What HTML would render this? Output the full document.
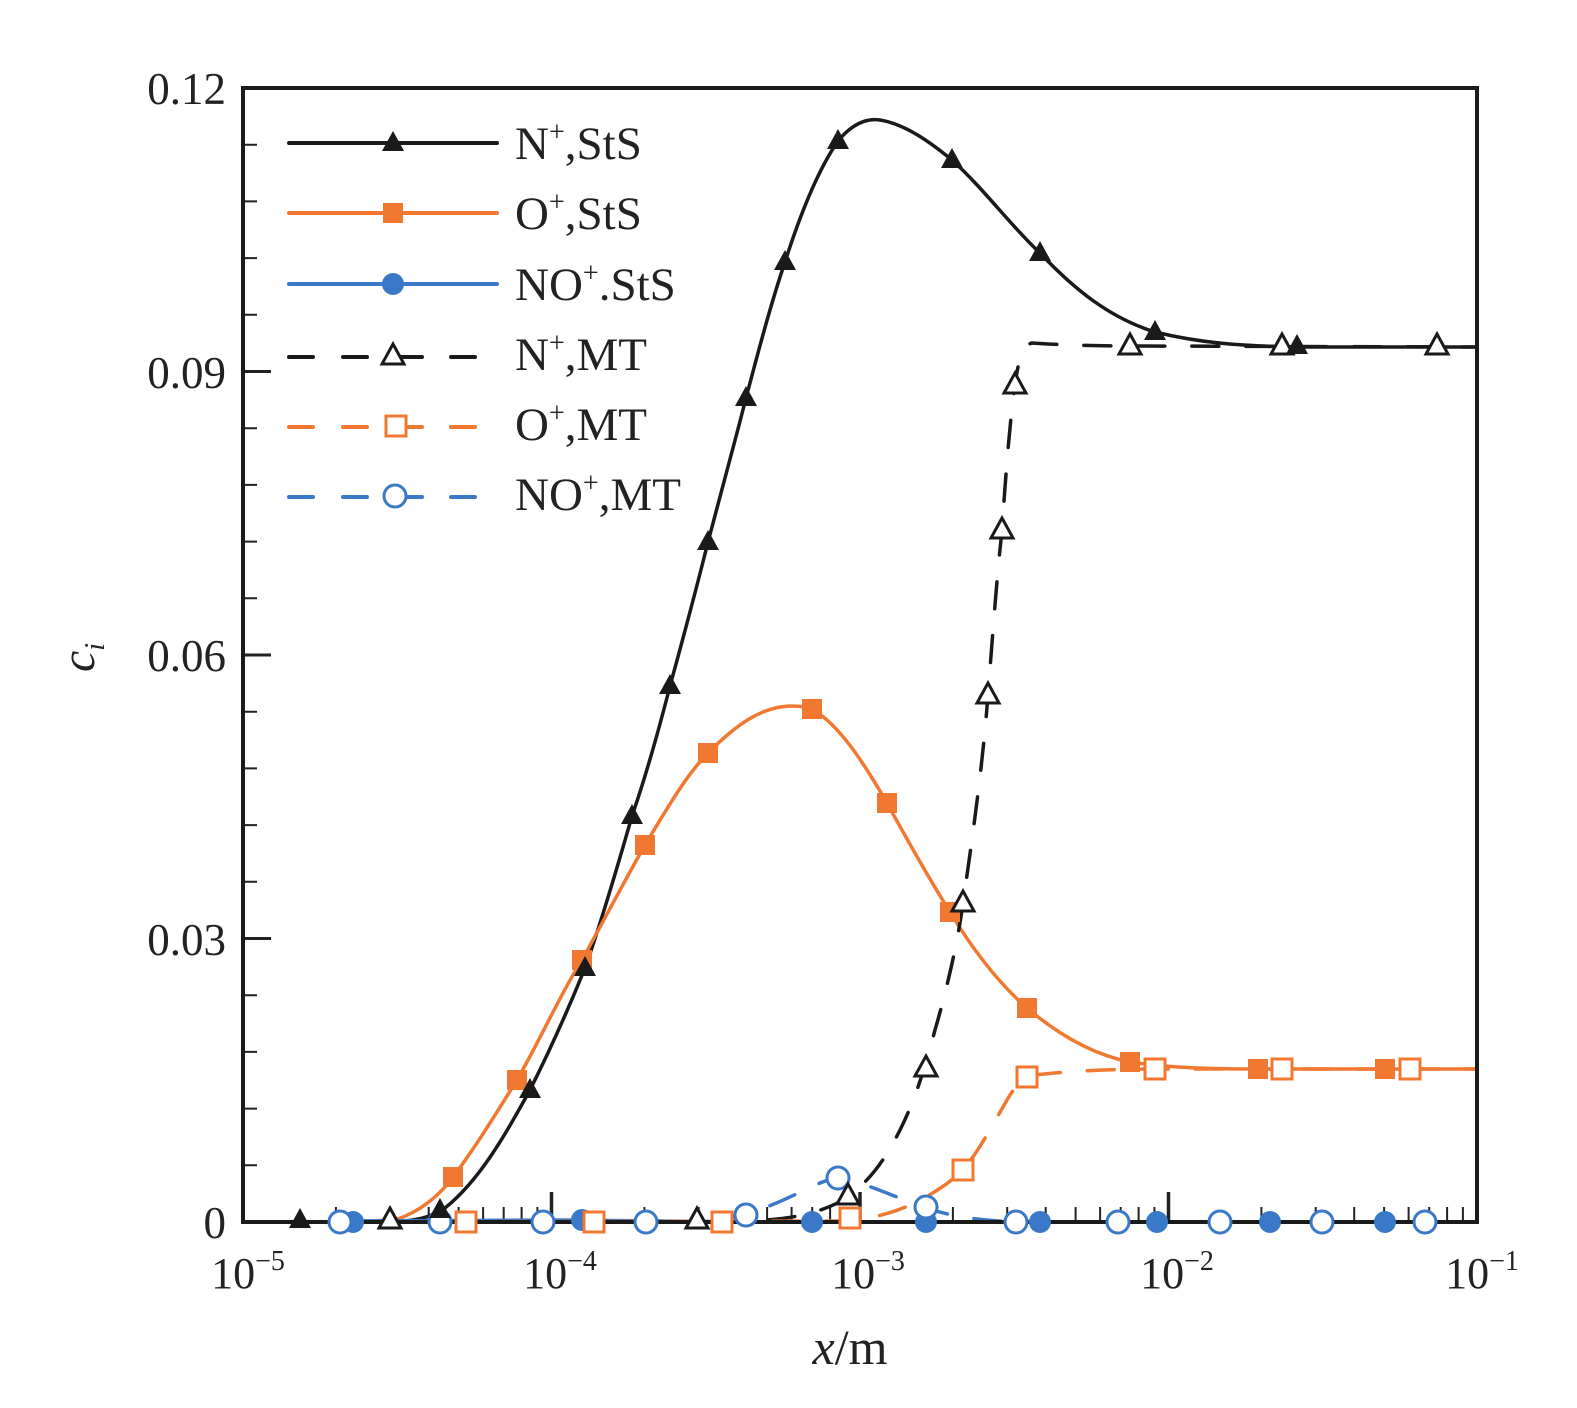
<!DOCTYPE html>
<html><head><meta charset="utf-8"><style>
html,body{margin:0;padding:0;background:#fff;}
svg{display:block;}
text{font-family:"Liberation Serif",serif;fill:#222;}
</style></head><body>
<svg width="1577" height="1408" viewBox="0 0 1577 1408" xmlns="http://www.w3.org/2000/svg">
<defs>
<symbol id="tf" overflow="visible"><polygon points="0,-12 11,8 -11,8" fill="#1a1a1a"/></symbol>
<symbol id="to" overflow="visible"><polygon points="0,-12 11,8 -11,8" fill="#fff" stroke="#1a1a1a" stroke-width="3"/></symbol>
<symbol id="sf" overflow="visible"><rect x="-10" y="-10" width="20" height="20" fill="#f07830"/></symbol>
<symbol id="so" overflow="visible"><rect x="-10" y="-10" width="20" height="20" fill="#fff" stroke="#f07830" stroke-width="3"/></symbol>
<symbol id="cf" overflow="visible"><circle r="11" fill="#3a78c8"/></symbol>
<symbol id="co" overflow="visible"><circle r="11" fill="#fff" stroke="#3a78c8" stroke-width="3"/></symbol>
</defs>

<g stroke="#222" stroke-width="2" fill="none">
<path d="M243,1165.3h14M243,1108.6h14M243,1051.9h14M243,995.2h14M243,881.8h14M243,825.1h14M243,768.4h14M243,711.7h14M243,598.3h14M243,541.6h14M243,484.9h14M243,428.2h14M243,314.8h14M243,258.1h14M243,201.4h14M243,144.7h14"/>
<path d="M243,938.5h28M243,655h28M243,371.5h28" stroke-width="3"/>
<path d="M335.9,1222v-15M390.2,1222v-15M428.7,1222v-15M458.6,1222v-15M483.1,1222v-15M503.7,1222v-15M521.6,1222v-15M537.4,1222v-15M644.4,1222v-15M698.7,1222v-15M737.2,1222v-15M767.1,1222v-15M791.6,1222v-15M812.2,1222v-15M830.1,1222v-15M845.9,1222v-15M952.9,1222v-15M1007.2,1222v-15M1045.7,1222v-15M1075.6,1222v-15M1100.1,1222v-15M1120.7,1222v-15M1138.6,1222v-15M1154.4,1222v-15M1261.4,1222v-15M1315.7,1222v-15M1354.2,1222v-15M1384.1,1222v-15M1408.6,1222v-15M1429.2,1222v-15M1447.1,1222v-15M1462.9,1222v-15"/>
<path d="M551.5,1222v-30M860,1222v-30M1168.5,1222v-30" stroke-width="3.5"/>
</g>

<g fill="none" stroke-width="3.5" stroke-linejoin="round" stroke-linecap="round">
<path stroke="#1a1a1a" d="M300,1222 L390,1222 C415,1221 430,1218 445,1208 C480,1180 505,1135 530,1090 C550,1050 568,1010 585,968 C602,920 618,865 632,816 C648,770 660,725 670,686 C684,635 696,590 708,542 C722,490 734,445 746,398 C760,345 772,300 785,262 C800,215 818,170 838,141 C852,124 866,118 880,120 C905,124 930,142 952,160 C985,190 1010,225 1040,253 C1075,290 1110,318 1155,332 C1200,343 1240,346 1297,347 L1477,347"/>
<path stroke="#f07830" d="M340,1222 L395,1220 C420,1212 440,1195 453,1177 C475,1148 497,1112 517,1080 C540,1040 560,995 582,960 C603,922 625,880 645,845 C665,812 686,775 708,753 C735,726 760,707 790,706 C800,706 808,707 812,709 C840,725 865,765 887,803 C910,845 930,880 950,912 C970,945 995,980 1027,1008 C1060,1036 1095,1055 1130,1062 C1170,1068 1210,1069 1260,1069 L1477,1069"/>
<path stroke="#3a78c8" d="M340,1221 L560,1220 C640,1221 700,1222 760,1222 L1477,1222"/>
<path stroke="#1a1a1a" stroke-dasharray="27,27" d="M390,1222 L700,1222 C760,1222 790,1219 815,1212 C835,1205 845,1200 850,1195 C870,1180 885,1160 900,1130 C915,1100 925,1068 935,1030 C948,985 958,940 963,903 C975,820 983,760 988,695 C993,630 997,575 1002,530 C1006,470 1010,420 1015,385 C1019,355 1024,345 1032,343 C1060,345 1100,346 1130,346 L1477,347"/>
<path stroke="#f07830" stroke-dasharray="27,27" d="M340,1222 L840,1221 C870,1219 890,1214 910,1205 C930,1196 950,1183 963,1170 C980,1150 995,1120 1010,1095 C1018,1083 1024,1078 1035,1075 C1070,1071 1110,1069 1155,1069 L1477,1069"/>
<path stroke="#3a78c8" stroke-dasharray="27,27" d="M340,1222 L690,1222 C715,1221 735,1218 750,1213 C775,1205 800,1192 820,1183 C830,1179 836,1178 845,1179 C870,1185 895,1197 926,1208 C950,1216 975,1220 1016,1222 L1477,1222"/>
</g>

<rect x="243" y="88" width="1234" height="1134" fill="none" stroke="#1a1a1a" stroke-width="4"/>

<g>
<use href="#cf" x="353" y="1222"/><use href="#cf" x="582" y="1220"/><use href="#cf" x="812" y="1222"/><use href="#cf" x="926" y="1222"/><use href="#cf" x="1040" y="1222"/><use href="#cf" x="1157" y="1222"/><use href="#cf" x="1270" y="1222"/><use href="#cf" x="1385" y="1222"/>
<use href="#co" x="340" y="1222"/><use href="#co" x="440" y="1222"/><use href="#co" x="543" y="1222"/><use href="#co" x="646" y="1222"/><use href="#co" x="746" y="1215"/><use href="#co" x="838" y="1178"/><use href="#co" x="926" y="1207"/><use href="#co" x="1016" y="1222"/><use href="#co" x="1118" y="1222"/><use href="#co" x="1220" y="1222"/><use href="#co" x="1322" y="1222"/><use href="#co" x="1425" y="1222"/>
<use href="#so" x="466" y="1222"/><use href="#so" x="594" y="1222"/><use href="#so" x="722" y="1222"/><use href="#so" x="850" y="1218"/><use href="#so" x="963" y="1170"/><use href="#so" x="1027" y="1077"/><use href="#so" x="1155" y="1069"/><use href="#so" x="1282" y="1069"/><use href="#so" x="1410" y="1069"/>
<use href="#sf" x="453" y="1177"/><use href="#sf" x="517" y="1080"/><use href="#sf" x="582" y="960"/><use href="#sf" x="645" y="845"/><use href="#sf" x="708" y="753"/><use href="#sf" x="812" y="709"/><use href="#sf" x="887" y="803"/><use href="#sf" x="950" y="912"/><use href="#sf" x="1027" y="1008"/><use href="#sf" x="1130" y="1062"/><use href="#sf" x="1258" y="1069"/><use href="#sf" x="1385" y="1069"/>
<use href="#to" x="390" y="1220"/><use href="#to" x="697" y="1220"/><use href="#to" x="848" y="1196"/><use href="#to" x="926" y="1068"/><use href="#to" x="963" y="903"/><use href="#to" x="988" y="695"/><use href="#to" x="1002" y="530"/><use href="#to" x="1015" y="385"/><use href="#to" x="1130" y="346"/><use href="#to" x="1282" y="346"/><use href="#to" x="1437" y="346"/>
<use href="#tf" x="300" y="1220"/><use href="#tf" x="440" y="1210"/><use href="#tf" x="530" y="1090"/><use href="#tf" x="585" y="968"/><use href="#tf" x="632" y="816"/><use href="#tf" x="670" y="686"/><use href="#tf" x="708" y="542"/><use href="#tf" x="746" y="398"/><use href="#tf" x="785" y="262"/><use href="#tf" x="838" y="141"/><use href="#tf" x="952" y="160"/><use href="#tf" x="1040" y="253"/><use href="#tf" x="1155" y="332"/><use href="#tf" x="1297" y="346"/>
</g>

<g fill="none" stroke-width="4" stroke-linecap="round">
<path stroke="#1a1a1a" d="M289,143H497"/>
<path stroke="#f07830" d="M289,213H497"/>
<path stroke="#3a78c8" d="M289,284H497"/>
<path stroke="#1a1a1a" d="M289,357H313M343,357H367M393,357H422M451,357H475"/>
<path stroke="#f07830" d="M289,427H313M343,427H367M393,427H422M451,427H475"/>
<path stroke="#3a78c8" d="M289,497H313M343,497H367M393,497H422M451,497H475"/>
</g>
<use href="#tf" x="393" y="143"/><use href="#sf" x="393" y="213"/><use href="#cf" x="393" y="284"/>
<use href="#to" x="393" y="356"/><use href="#so" x="396" y="426"/><use href="#co" x="395" y="496"/>
<g font-size="47">
<text x="515" y="159">N<tspan font-size="28" dy="-18">+</tspan><tspan dy="18">,StS</tspan></text>
<text x="515" y="229">O<tspan font-size="28" dy="-18">+</tspan><tspan dy="18">,StS</tspan></text>
<text x="515" y="300">NO<tspan font-size="28" dy="-18">+</tspan><tspan dy="18">.StS</tspan></text>
<text x="515" y="370">N<tspan font-size="28" dy="-18">+</tspan><tspan dy="18">,MT</tspan></text>
<text x="515" y="440">O<tspan font-size="28" dy="-18">+</tspan><tspan dy="18">,MT</tspan></text>
<text x="515" y="510">NO<tspan font-size="28" dy="-18">+</tspan><tspan dy="18">,MT</tspan></text>
</g>

<g font-size="45" text-anchor="end">
<text x="226" y="104">0.12</text>
<text x="226" y="388">0.09</text>
<text x="226" y="671">0.06</text>
<text x="226" y="955">0.03</text>
<text x="226" y="1238">0</text>
</g>
<g font-size="44" text-anchor="middle">
<text x="248" y="1288">10<tspan font-size="28" dy="-18">−5</tspan></text>
<text x="560" y="1288">10<tspan font-size="28" dy="-18">−4</tspan></text>
<text x="868" y="1288">10<tspan font-size="28" dy="-18">−3</tspan></text>
<text x="1177" y="1288">10<tspan font-size="28" dy="-18">−2</tspan></text>
<text x="1482" y="1288">10<tspan font-size="28" dy="-18">−1</tspan></text>
</g>
<text x="850" y="1364" font-size="50" text-anchor="middle"><tspan font-style="italic">x</tspan>/m</text>
<text transform="translate(94,672) rotate(-90)" font-size="48" font-style="italic">c<tspan font-size="28" dy="10">i</tspan></text>
</svg>
</body></html>
